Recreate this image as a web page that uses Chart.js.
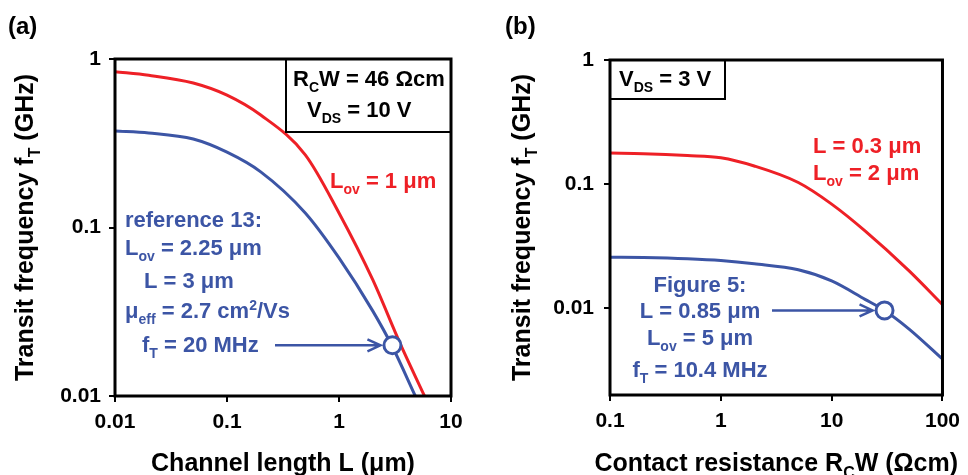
<!DOCTYPE html>
<html>
<head>
<meta charset="utf-8">
<script src="https://cdn.jsdelivr.net/npm/chart.js@4"></script>
<style>
  html, body { margin: 0; padding: 0; background: #fff; }
  #wrap { position: relative; width: 968px; height: 475px; }
  canvas { position: absolute; top: 0; }
</style>
</head>
<body>
<div id="wrap">
  <canvas id="panelA" width="484" height="475" style="left:0"></canvas>
  <canvas id="panelB" width="484" height="475" style="left:484px"></canvas>
</div>
<script>
// panel (a): transit frequency vs channel length
const redLenA  = [0.01, 0.02, 0.05, 0.1, 0.2, 0.5, 1, 2, 3.5, 5.8];
const redFtA   = [0.84, 0.80, 0.72, 0.61, 0.465, 0.27, 0.122, 0.049, 0.0206, 0.01];
const blueLenA = [0.01, 0.02, 0.05, 0.1, 0.2, 0.5, 1, 2, 3, 4.8];
const blueFtA  = [0.374, 0.364, 0.335, 0.28, 0.214, 0.122, 0.066, 0.032, 0.0196, 0.01];
const markLenA = [3];
const markFtA  = [0.02];
const xTicksA  = [0.01, 0.1, 1, 10];
const yTicksA  = [0.01, 0.1, 1];

// panel (b): transit frequency vs contact resistance
const redRcwB  = [0.1, 0.2, 0.5, 1, 2, 5, 10, 20, 50, 100];
const redFtB   = [0.178, 0.176, 0.17, 0.163, 0.14, 0.103, 0.069, 0.042, 0.020, 0.0107];
const blueRcwB = [0.1, 0.2, 0.5, 1, 2, 5, 10, 20, 30, 50, 100];
const blueFtB  = [0.0258, 0.0256, 0.025, 0.0242, 0.0228, 0.0204, 0.0166, 0.0118, 0.0096, 0.0068, 0.0039];
const markRcwB = [30];
const markFtB  = [0.0096];
const xTicksB  = [0.1, 1, 10, 100];
const yTicksB  = [0.01, 0.1, 1];

const ROT = '#ee2026';
const BLAU = '#3c55a5';
const FONT = '"Liberation Sans", Arial, sans-serif';

function pts(xs, ys) {
  return xs.map((x, i) => ({ x: x, y: ys[i] }));
}

// text with _{sub} and ^{sup}
function texto(ctx, str, x, y, size, color, align, weight) {
  const teile = [];
  const re = /([_^])\{([^}]*)\}/g;
  let last = 0, m;
  while ((m = re.exec(str))) {
    if (m.index > last) teile.push({ t: str.slice(last, m.index), k: '' });
    teile.push({ t: m[2], k: m[1] });
    last = re.lastIndex;
  }
  if (last < str.length) teile.push({ t: str.slice(last), k: '' });
  const fontVon = k => (weight || 'bold') + ' ' + (k ? Math.round(size * 0.62) : size) + 'px ' + FONT;
  let w = 0;
  teile.forEach(p => { ctx.font = fontVon(p.k); p.w = ctx.measureText(p.t).width; w += p.w; });
  let cx = align === 'center' ? x - w / 2 : (align === 'right' ? x - w : x);
  ctx.fillStyle = color;
  ctx.textAlign = 'left';
  ctx.textBaseline = 'alphabetic';
  teile.forEach(p => {
    ctx.font = fontVon(p.k);
    const dy = p.k === '_' ? size * 0.28 : (p.k === '^' ? -size * 0.38 : 0);
    ctx.fillText(p.t, cx, y + dy);
    cx += p.w;
  });
}

function pfeil(ctx, x1, y, x2) {
  ctx.save();
  ctx.strokeStyle = BLAU;
  ctx.lineWidth = 2.5;
  ctx.beginPath();
  ctx.moveTo(x1, y);
  ctx.lineTo(x2, y);
  ctx.moveTo(x2 - 13, y - 6);
  ctx.lineTo(x2, y);
  ctx.lineTo(x2 - 13, y + 6);
  ctx.stroke();
  ctx.restore();
}

function baueChart(id, cfg) {
  const deko = {
    id: 'deko',
    afterDraw(chart) {
      const ctx = chart.ctx;
      const a = chart.chartArea;
      ctx.save();
      ctx.strokeStyle = '#000';
      ctx.lineWidth = 3;
      ctx.strokeRect(a.left, a.top, a.right - a.left, a.bottom - a.top);
      // panel letter
      texto(ctx, cfg.buchstabe, cfg.buchstabeX, 34, 24, '#000', 'left');
      // axis titles
      texto(ctx, cfg.xTitel, (a.left + a.right) / 2, 471, 25, '#000', 'center');
      ctx.save();
      ctx.translate(cfg.yTitelX, (a.top + a.bottom) / 2);
      ctx.rotate(-Math.PI / 2);
      texto(ctx, cfg.yTitel, 0, 0, 25, '#000', 'center');
      ctx.restore();
      // framed note
      ctx.lineWidth = 2;
      ctx.strokeRect(cfg.kasten[0], cfg.kasten[1], cfg.kasten[2] - cfg.kasten[0], cfg.kasten[3] - cfg.kasten[1]);
      cfg.notizen.forEach(n => texto(ctx, n[0], n[1], n[2], 22, n[3], n[4] || 'left'));
      // arrow to the marked point
      const mk = chart.data.datasets[0].data[0];
      const px = chart.scales.x.getPixelForValue(mk.x);
      const py = chart.scales.y.getPixelForValue(mk.y);
      pfeil(ctx, cfg.pfeilStart, py, px - 12);
      ctx.restore();
    }
  };

  return new Chart(document.getElementById(id), {
    type: 'line',
    data: {
      datasets: [
        {
          data: pts(cfg.markX, cfg.markY),
          showLine: false,
          pointRadius: 8.5,
          pointBackgroundColor: '#fff',
          pointBorderColor: BLAU,
          pointBorderWidth: 3,
          order: 0
        },
        {
          data: pts(cfg.rotX, cfg.rotY),
          borderColor: ROT,
          borderWidth: 3,
          pointRadius: 0,
          cubicInterpolationMode: 'monotone',
          order: 2
        },
        {
          data: pts(cfg.blauX, cfg.blauY),
          borderColor: BLAU,
          borderWidth: 3,
          pointRadius: 0,
          cubicInterpolationMode: 'monotone',
          order: 1
        }
      ]
    },
    options: {
      responsive: false,
      animation: false,
      layout: { padding: { left: 0, top: cfg.area.top, right: 484 - cfg.area.right, bottom: 0 } },
      plugins: { legend: { display: false }, tooltip: { enabled: false } },
      scales: {
        x: {
          type: 'logarithmic',
          min: cfg.xMin,
          max: cfg.xMax,
          afterBuildTicks: s => { s.ticks = cfg.xTicks.map(v => ({ value: v })); },
          afterFit: s => { s.height = 475 - cfg.area.bottom; },
          border: { display: false },
          grid: { drawOnChartArea: false, drawTicks: true, tickLength: 6, color: '#000', lineWidth: 2 },
          ticks: {
            padding: 8,
            color: '#000',
            font: { family: FONT, size: 21, weight: 'bold' },
            maxRotation: 0,
            autoSkip: false,
            callback: v => String(v)
          }
        },
        y: {
          type: 'logarithmic',
          min: cfg.yMin,
          max: 1,
          afterBuildTicks: s => { s.ticks = cfg.yTicks.map(v => ({ value: v })); },
          afterFit: s => { s.width = cfg.area.left; },
          border: { display: false },
          grid: { drawOnChartArea: false, drawTicks: true, tickLength: 6, color: '#000', lineWidth: 2 },
          ticks: {
            padding: cfg.yPad,
            color: '#000',
            font: { family: FONT, size: 21, weight: 'bold' },
            autoSkip: false,
            callback: v => String(v)
          }
        }
      }
    },
    plugins: [deko]
  });
}

baueChart('panelA', {
  area: { left: 115, top: 59, right: 451, bottom: 396 },
  xMin: 0.01, xMax: 10, yMin: 0.01, yPad: 8,
  xTicks: xTicksA, yTicks: yTicksA,
  rotX: redLenA, rotY: redFtA, blauX: blueLenA, blauY: blueFtA,
  markX: markLenA, markY: markFtA,
  buchstabe: '(a)', buchstabeX: 8,
  xTitel: 'Channel length L (μm)',
  yTitel: 'Transit frequency f_{T} (GHz)', yTitelX: 33,
  kasten: [286, 59, 451, 132],
  notizen: [
    ['R_{C}W = 46 Ωcm', 293, 86, '#000'],
    ['V_{DS} = 10 V', 307, 117, '#000'],
    ['L_{ov} = 1 μm', 330, 188, ROT],
    ['reference 13:', 125, 227, BLAU],
    ['L_{ov} = 2.25 μm', 125, 255, BLAU],
    ['L = 3 μm', 144, 288, BLAU],
    ['μ_{eff} = 2.7 cm^{2}/Vs', 125, 318, BLAU],
    ['f_{T} = 20 MHz', 142, 352, BLAU]
  ],
  pfeilStart: 275
});

baueChart('panelB', {
  area: { left: 126, top: 60, right: 462, bottom: 395 },
  xMin: 0.1, xMax: 100, yMin: 0.002, yPad: 10,
  xTicks: xTicksB, yTicks: yTicksB,
  rotX: redRcwB, rotY: redFtB, blauX: blueRcwB, blauY: blueFtB,
  markX: markRcwB, markY: markFtB,
  buchstabe: '(b)', buchstabeX: 21,
  xTitel: 'Contact resistance R_{C}W (Ωcm)',
  yTitel: 'Transit frequency f_{T} (GHz)', yTitelX: 46,
  kasten: [126, 60, 241, 99],
  notizen: [
    ['V_{DS} = 3 V', 135, 86, '#000'],
    ['L = 0.3 μm', 329, 153, ROT],
    ['L_{ov} = 2 μm', 329, 180, ROT],
    ['Figure 5:', 216, 292, BLAU, 'center'],
    ['L = 0.85 μm', 216, 318, BLAU, 'center'],
    ['L_{ov} = 5 μm', 216, 345, BLAU, 'center'],
    ['f_{T} = 10.4 MHz', 216, 377, BLAU, 'center']
  ],
  pfeilStart: 288
});
</script>
</body>
</html>
